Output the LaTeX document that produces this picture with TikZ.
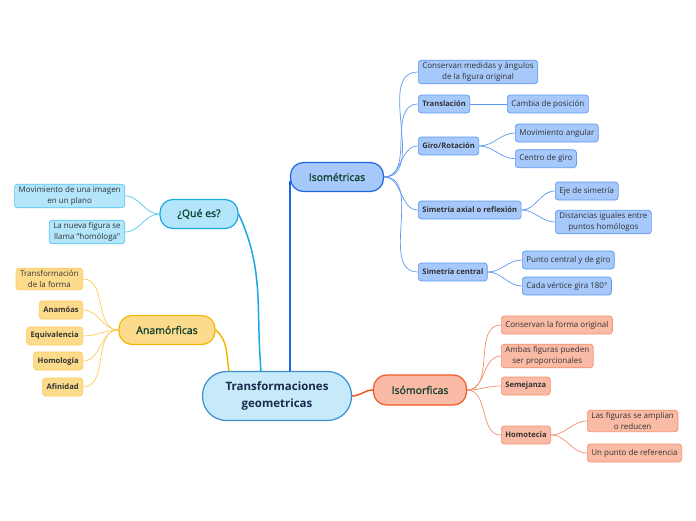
\documentclass[tikz,border=0pt]{standalone}
\usepackage{fontspec}
\setmainfont{Open Sans}
\newfontfamily\mainlabel[FakeBold=1.2]{Open Sans}
\usepackage{xcolor}
\usetikzlibrary{positioning}

\definecolor{ctrFill}{HTML}{C7EAFB}
\definecolor{ctrDraw}{HTML}{3A8FD0}
\definecolor{ctrText}{HTML}{1C2A4D}
\definecolor{mainText}{HTML}{0E3F2D}
\definecolor{isoFill}{HTML}{A6C8FA}
\definecolor{isoDraw}{HTML}{1E66E0}
\definecolor{isoLeaf}{HTML}{5E98F0}
\definecolor{queFill}{HTML}{B3E6FB}
\definecolor{queDraw}{HTML}{19A7E6}
\definecolor{queLeaf}{HTML}{55C2F0}
\definecolor{anaFill}{HTML}{FDDB8C}
\definecolor{anaDraw}{HTML}{F6B500}
\definecolor{anaLeaf}{HTML}{FCCB55}
\definecolor{isfFill}{HTML}{F9BBA5}
\definecolor{isfDraw}{HTML}{EE5A26}
\definecolor{isfLeaf}{HTML}{F4906F}

\begin{document}
\begin{tikzpicture}[
        x=1pt, y=-1pt,
        mainbox/.style={
            draw, line width=1.2pt, rounded corners=13pt,
            minimum height=29pt, inner sep=2pt, text=mainText,
            font=\mainlabel\fontsize{10.5}{13}\selectfont
        },
        leafbox/.style={
            draw, line width=0.7pt, rounded corners=3pt,
            minimum height=18pt, inner xsep=4pt, inner ysep=2pt,
            align=center, text=black!80,
            font=\fontsize{8}{11.5}\selectfont
        },
        keybox/.style={
            leafbox, font=\fontsize{7.6}{11}\selectfont\bfseries
        },
        iso/.style={fill=isoFill, draw=isoLeaf},
        que/.style={fill=queFill, draw=queLeaf},
        ana/.style={fill=anaFill, draw=anaLeaf},
        isf/.style={fill=isfFill, draw=isfLeaf},
        branch/.style={line width=1.5pt},
        twig/.style={line width=0.7pt}
    ]

        \useasboundingbox (0,0) rectangle (696,520);

        % centre
        \node[draw=ctrDraw, fill=ctrFill, line width=1.2pt, rounded corners=24pt,
              minimum width=149pt, minimum height=49pt, align=center, text=ctrText,
              font=\fontsize{11.5}{17}\selectfont\bfseries] (Ctr) at (277,396)
            {Transformaciones\\geometricas};

        % main branches
        \node[mainbox, fill=isoFill, draw=isoDraw, minimum width=93pt] (Iso) at (337,177) {Isométricas};
        \node[mainbox, fill=queFill, draw=queDraw, minimum width=78pt] (Que) at (199,214) {¿Qué es?};
        \node[mainbox, fill=anaFill, draw=anaDraw, minimum width=96pt] (Ana) at (167,330) {Anamórficas};
        \node[mainbox, fill=isfFill, draw=isfDraw, minimum width=93pt, minimum height=30pt] (Isf) at (420,390) {Isómorficas};

        % Isometricas
        \node[leafbox, iso, anchor=west] (Conserva) at (418,72) {Conservan medidas y ángulos\\de la figura original};
        \node[keybox, iso, anchor=west] (Trasl) at (418,104) {Translación};
        \node[leafbox, iso, anchor=west] (Posicion) at (507,104) {Cambia de posición};
        \node[keybox, iso, anchor=west] (Giro) at (418,146) {Giro/Rotación};
        \node[leafbox, iso, anchor=west] (Angular) at (515,133) {Movimiento angular};
        \node[leafbox, iso, below=7pt of Angular.south west, anchor=north west] (CentroGiro) {Centro de giro};
        \node[keybox, iso, anchor=west] (Axial) at (418,210) {Simetría axial o reflexión};
        \node[leafbox, iso, anchor=west] (Eje) at (555,191) {Eje de simetría};
        \node[leafbox, iso, anchor=west] (Distancias) at (555,222) {Distancias iguales entre\\puntos homólogos};
        \node[keybox, iso, anchor=west] (Central) at (418,272) {Simetría central};
        \node[leafbox, iso, anchor=west] (PuntoGiro) at (522,260) {Punto central y de giro};
        \node[leafbox, iso, anchor=west] (Vertice) at (522,286) {Cada vértice gira 180°};

        % Isomorficas
        \node[leafbox, isf, anchor=west] (Forma) at (501,325) {Conservan la forma original};
        \node[leafbox, isf, anchor=west] (Proporcion) at (501,356) {Ambas figuras pueden\\ser proporcionales};
        \node[keybox, isf, anchor=west] (Semejanza) at (501,386) {Semejanza};
        \node[keybox, isf, anchor=west] (Homotecia) at (501,435) {Homotecia};
        \node[leafbox, isf, anchor=west] (Amplian) at (587,421) {Las figuras se amplian\\o reducen};
        \node[leafbox, isf, anchor=west] (Referencia) at (587,453) {Un punto de referencia};

        % Que es
        \node[leafbox, que, anchor=east] (Movimiento) at (125,196) {Movimiento de una imagen\\en un plano};
        \node[leafbox, que, anchor=east] (Homologa) at (125,232) {La nueva figura se\\llama "homóloga"};

        % Anamorficas
        \node[leafbox, ana, anchor=east] (TransForma) at (83,279) {Transformación\\de la forma};
        \node[keybox, ana, anchor=east] (Anamoas) at (83,310) {Anamóas};
        \node[keybox, ana, anchor=east] (Equiv) at (83,336) {Equivalencia};
        \node[keybox, ana, anchor=east] (Homologia) at (83,361) {Homología};
        \node[keybox, ana, anchor=east] (Afinidad) at (83,387) {Afinidad};

        % branches from the centre
        \draw[branch, isoDraw] (Ctr.north -| Iso.west) -- ([yshift=-4pt]Iso.west);
        \draw[branch, queDraw] ([xshift=-16pt]Ctr.north) to[out=95, in=-65] (Que.east);
        \draw[branch, anaDraw] ([xshift=-48pt]Ctr.north) to[out=100, in=-40] (Ana.east);
        \draw[branch, isfDraw] (Ctr.east) to[out=0, in=180] (Isf.west);

        % twigs
        \foreach \leaf in {Conserva, Trasl, Giro, Axial, Central}
            \draw[twig, isoLeaf] (Iso.east) to[out=0, in=180] (\leaf.west);
        \draw[twig, isoLeaf] (Trasl.east) -- (Posicion.west);
        \foreach \leaf in {Angular, CentroGiro}
            \draw[twig, isoLeaf] (Giro.east) to[out=0, in=180] (\leaf.west);
        \foreach \leaf in {Eje, Distancias}
            \draw[twig, isoLeaf] (Axial.east) to[out=0, in=180] (\leaf.west);
        \foreach \leaf in {PuntoGiro, Vertice}
            \draw[twig, isoLeaf] (Central.east) to[out=0, in=180] (\leaf.west);

        \foreach \leaf in {Forma, Proporcion, Semejanza, Homotecia}
            \draw[twig, isfLeaf] (Isf.east) to[out=0, in=180] (\leaf.west);
        \foreach \leaf in {Amplian, Referencia}
            \draw[twig, isfLeaf] (Homotecia.east) to[out=0, in=180] (\leaf.west);

        \foreach \leaf in {Movimiento, Homologa}
            \draw[twig, queLeaf] (Que.west) to[out=180, in=0] (\leaf.east);
        \foreach \leaf in {TransForma, Anamoas, Equiv, Homologia, Afinidad}
            \draw[twig, anaLeaf] (Ana.west) to[out=180, in=0] (\leaf.east);

    \end{tikzpicture}
\end{document}
